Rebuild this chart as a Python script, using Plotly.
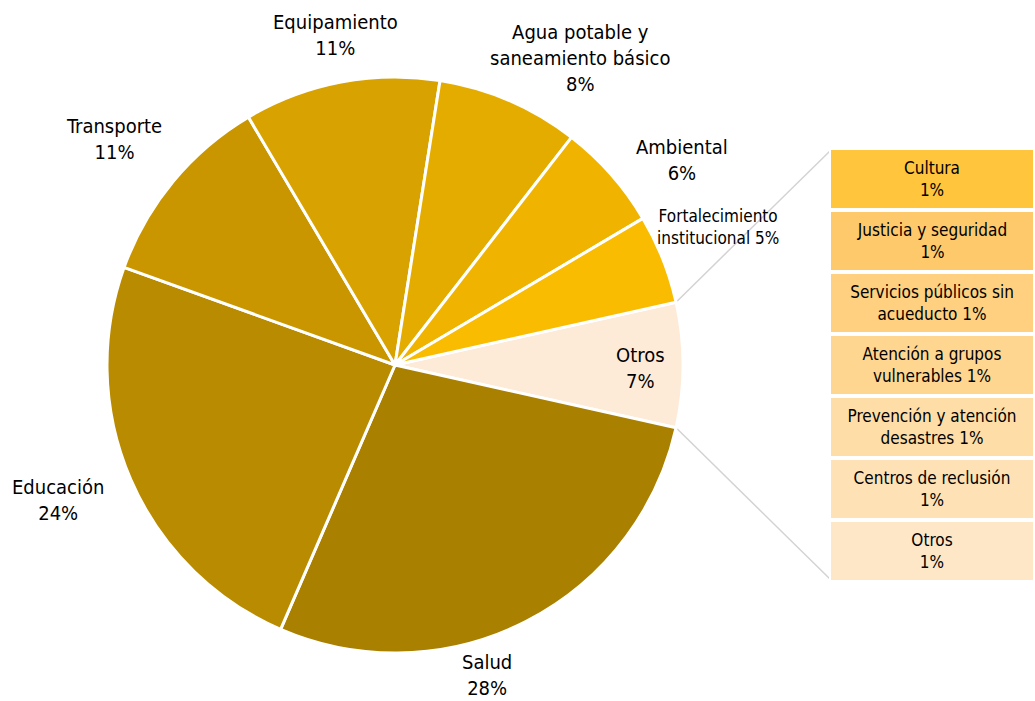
import math
import plotly.graph_objects as go

# Main pie data (shares in %)
sectores = ["Otros", "Salud", "Educación", "Transporte", "Equipamiento",
            "Agua potable y saneamiento básico", "Ambiental",
            "Fortalecimiento institucional"]
participacion = [7, 28, 24, 11, 11, 8, 6, 5]
etiquetas = ["Otros<br>7%", "Salud<br>28%", "Educación<br>24%", "Transporte<br>11%",
             "Equipamiento<br>11%", "Agua potable y<br>saneamiento básico<br>8%",
             "Ambiental<br>6%", "Fortalecimiento<br>institucional 5%"]
colores_pie = ["#FDEBD7", "#AA8000", "#B98B00", "#C99600", "#D8A200",
               "#E5AC00", "#F0B400", "#F9BC00"]

# Breakdown of "Otros" (top to bottom)
otros_sectores = ["Cultura", "Justicia y seguridad", "Servicios públicos sin acueducto",
                  "Atención a grupos vulnerables", "Prevención y atención desastres",
                  "Centros de reclusión", "Otros"]
otros_valores = [1, 1, 1, 1, 1, 1, 1]
otros_etiquetas = ["Cultura<br>1%", "Justicia y seguridad<br>1%",
                   "Servicios públicos sin<br>acueducto 1%",
                   "Atención a grupos<br>vulnerables 1%",
                   "Prevención y atención<br>desastres 1%",
                   "Centros de reclusión<br>1%", "Otros<br>1%"]
colores_otros = ["#FFC53D", "#FEC96A", "#FED07F", "#FED690", "#FEDDA6",
                 "#FEE2B6", "#FEE7C7"]

W, H = 1035, 701
FONT = "DejaVu Sans Condensed, Liberation Sans Narrow, sans-serif"


def px(x):
    return x / W


def py(y):
    return 1 - y / H


# pie geometry in screen pixels
cx, cy, r = 395, 365, 288
rotation = 90 - 180 * participacion[0] / sum(participacion)

# label centres (screen pixels) and sizes, one per slice
label_xy = [(640, 368), (487, 675), (58, 500), (114, 139), (335, 35),
            (580, 58), (682, 160), (718, 227)]
label_size = [20, 20, 20, 20, 20, 20, 20, 17]

fig = go.Figure()

fig.add_trace(go.Pie(
    labels=sectores,
    values=participacion,
    textinfo="none",
    sort=False,
    direction="clockwise",
    rotation=rotation,
    marker=dict(colors=colores_pie, line=dict(color="white", width=3)),
    domain=dict(x=[px(cx - r), px(cx + r)], y=[py(cy + r), py(cy - r)]),
    hoverinfo="label+percent",
))

# stacked boxes for the "Otros" breakdown (bottom first)
box_top, box_bottom, box_left, box_right = 148, 582, 829, 1037
for nombre, val, txt, col in reversed(list(zip(otros_sectores, otros_valores,
                                               otros_etiquetas, colores_otros))):
    fig.add_trace(go.Bar(
        x=["otros"],
        y=[val],
        name=nombre,
        text=[txt],
        textposition="inside",
        insidetextanchor="middle",
        textangle=0,
        constraintext="none",
        textfont=dict(family=FONT, size=17, color="black"),
        marker=dict(color=col, line=dict(color="white", width=4)),
        width=1,
        hoverinfo="name",
    ))

# connector lines from the "Otros" slice to the boxes
frac_otros = participacion[0] / sum(participacion)
a_top = math.radians(90 - rotation)
a_bot = math.radians(90 - rotation - 360 * frac_otros)
shapes = []
for ang, by in [(a_top, 150), (a_bot, 580)]:
    ex, ey = cx + r * math.cos(ang), cy - r * math.sin(ang)
    shapes.append(dict(type="line", xref="paper", yref="paper",
                       x0=px(ex), y0=py(ey), x1=px(831), y1=py(by),
                       line=dict(color="#D3D3D3", width=1.5), layer="below"))

annotations = []
for txt, (lx, ly), sz in zip(etiquetas, label_xy, label_size):
    annotations.append(dict(text=txt, x=px(lx), y=py(ly), xref="paper", yref="paper",
                            showarrow=False, xanchor="center", yanchor="middle",
                            align="center",
                            font=dict(family=FONT, size=sz, color="black")))

fig.update_layout(
    width=W, height=H,
    margin=dict(l=0, r=0, t=0, b=0),
    paper_bgcolor="white",
    plot_bgcolor="white",
    showlegend=False,
    barmode="stack",
    bargap=0,
    shapes=shapes,
    annotations=annotations,
    xaxis=dict(domain=[px(box_left), min(px(box_right), 1)], range=[-0.5, 0.5],
               visible=False, fixedrange=True),
    yaxis=dict(domain=[py(box_bottom), py(box_top)],
               range=[0, sum(otros_valores)], visible=False, fixedrange=True),
)

# drop the default body margin so the figure sits at the page origin
fig.write_html("out.html", config={"displayModeBar": False},
               post_script="document.body.style.margin='0';")
